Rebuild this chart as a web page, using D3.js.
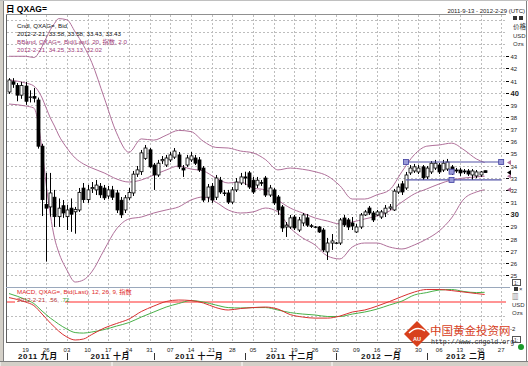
<!DOCTYPE html>
<html>
<head>
<meta charset="utf-8">
<script src="https://cdnjs.cloudflare.com/ajax/libs/d3/7.8.5/d3.min.js"></script>
<style>
  body { margin: 0; background: #fff; }
  svg { display: block; font-family: "Liberation Sans", Arial, "Noto Sans CJK SC", sans-serif; }
</style>
</head>
<body>
<svg id="chart" width="528" height="366"></svg>
<script>
// QXAG= (silver, USD/oz) daily candles, one row per trading day from 2011-9-13
// [open, high, low, close]
var candles = [
  [40.06, 41.2, 39.9, 41.05], [40.9, 41.2, 40.4, 40.7], [40.6, 40.8, 39.3, 39.8], [39.8, 40.9, 39.5, 40.6],
  [40.55, 40.9, 39.0, 39.3], [39.6, 40.2, 39.2, 39.65], [39.7, 40.4, 39.2, 39.55], [39.4, 39.6, 35.4, 35.6],
  [35.6, 35.8, 29.85, 31.2], [30.8, 33.4, 26.1, 30.5], [30.6, 33.4, 29.8, 31.75], [31.4, 32.0, 28.95, 29.8],
  [29.8, 31.3, 28.95, 30.5], [30.7, 31.17, 29.7, 30.1], [29.8, 30.76, 28.7, 30.35], [30.5, 31.3, 28.55, 30.0],
  [30.2, 30.6, 28.4, 30.4], [30.35, 32.16, 30.19, 31.8], [32.15, 32.57, 30.93, 31.2], [31.2, 32.41, 30.93, 32.0],
  [32.1, 32.65, 31.75, 32.2], [32.0, 32.82, 31.58, 32.4], [32.3, 32.57, 31.34, 31.6], [32.15, 32.41, 31.17, 31.35],
  [31.5, 32.33, 31.26, 32.0], [32.0, 32.33, 31.17, 31.4], [31.75, 32.0, 30.1, 30.35], [31.15, 31.42, 29.69, 29.95],
  [30.35, 31.58, 30.1, 31.35], [31.35, 32.16, 31.17, 31.8], [31.75, 33.56, 31.5, 33.3], [33.3, 33.97, 33.07, 33.65],
  [33.5, 35.29, 33.23, 35.05], [34.6, 35.7, 34.47, 35.45], [35.3, 35.45, 33.81, 33.9], [34.05, 34.22, 32.0, 33.23],
  [33.23, 34.47, 33.07, 34.2], [34.4, 34.79, 34.14, 34.5], [34.05, 34.88, 33.89, 34.63], [34.47, 35.12, 34.3, 34.88],
  [34.7, 35.45, 34.55, 35.2], [34.88, 35.12, 33.72, 33.9], [33.8, 34.05, 33.07, 33.64], [34.05, 34.88, 33.89, 34.63],
  [34.47, 35.12, 34.3, 34.8], [34.63, 34.88, 34.05, 34.2], [34.47, 34.71, 33.48, 33.64], [33.8, 33.97, 31.01, 31.17],
  [31.4, 32.49, 31.01, 32.24], [32.3, 32.57, 30.93, 31.17], [31.4, 33.23, 31.17, 32.98], [32.8, 33.07, 31.67, 31.83],
  [31.75, 32.0, 31.5, 31.7], [31.75, 32.0, 30.84, 31.0], [31.0, 32.24, 30.84, 32.0], [32.0, 32.98, 31.83, 32.65],
  [32.57, 33.4, 32.41, 33.07], [33.07, 33.5, 32.4, 32.98], [33.4, 33.56, 32.08, 32.24], [32.8, 33.07, 31.67, 31.83],
  [32.4, 33.07, 32.16, 32.8], [32.6, 32.82, 32.33, 32.55], [32.98, 33.15, 31.42, 31.58], [31.58, 32.41, 31.42, 32.16],
  [32.0, 32.16, 30.76, 30.93], [31.42, 31.58, 29.94, 30.35], [30.6, 30.76, 28.54, 28.87], [28.95, 29.36, 28.13, 29.1],
  [28.95, 29.94, 28.79, 29.7], [29.77, 29.94, 28.7, 28.87], [28.7, 29.77, 28.54, 29.53], [29.28, 30.1, 29.03, 29.94],
  [29.7, 30.02, 28.95, 29.1], [29.05, 29.2, 28.87, 29.0], [28.95, 29.03, 28.87, 28.95], [28.95, 29.03, 28.46, 28.54],
  [28.7, 28.87, 26.89, 27.06], [26.9, 28.05, 26.23, 27.63], [27.63, 28.37, 27.06, 27.8], [27.6, 27.72, 27.55, 27.63],
  [27.63, 29.69, 27.47, 29.53], [29.69, 29.94, 28.95, 29.12], [29.53, 29.69, 28.7, 28.95], [29.28, 29.77, 28.7, 29.03],
  [28.54, 29.2, 28.46, 28.95], [28.95, 30.1, 28.79, 29.94], [29.94, 30.35, 29.86, 30.19], [30.51, 30.68, 29.94, 30.1],
  [30.1, 30.27, 29.36, 29.53], [29.94, 30.35, 29.86, 30.19], [29.77, 30.35, 29.61, 30.19], [30.1, 30.76, 29.77, 30.5],
  [30.5, 30.84, 30.35, 30.6], [30.35, 32.08, 30.27, 31.9], [31.83, 32.49, 31.67, 32.24], [32.5, 32.74, 31.58, 31.83],
  [32.16, 33.48, 32.0, 33.23], [33.4, 34.05, 33.23, 33.8], [33.56, 34.14, 33.4, 33.9], [33.48, 34.05, 33.31, 33.8],
  [33.9, 34.05, 32.82, 33.0], [33.07, 33.97, 32.9, 33.8], [33.48, 34.38, 33.31, 34.2], [33.8, 34.47, 33.64, 34.2],
  [34.05, 34.22, 33.31, 33.48], [33.64, 34.47, 33.48, 34.2], [33.72, 34.55, 33.56, 34.3], [33.89, 34.05, 33.23, 33.48],
  [33.64, 33.81, 33.4, 33.56], [33.64, 33.81, 33.15, 33.4], [33.56, 33.72, 33.31, 33.48], [33.56, 33.72, 33.15, 33.31],
  [33.23, 33.72, 32.82, 33.56], [33.15, 33.64, 32.98, 33.48], [33.23, 33.56, 33.07, 33.48], [33.58, 33.58, 33.43, 33.43]
];

// indicator readings, taken at these days
var sampleDays = [
  "2011-09-13", "2011-09-19", "2011-09-21", "2011-09-23", "2011-09-26", "2011-09-27", "2011-09-28", "2011-09-29",
  "2011-10-03", "2011-10-05", "2011-10-07", "2011-10-11", "2011-10-14", "2011-10-19", "2011-10-24", "2011-10-27",
  "2011-11-01", "2011-11-04", "2011-11-09", "2011-11-14", "2011-11-17", "2011-11-22", "2011-11-25", "2011-11-30",
  "2011-12-05", "2011-12-08", "2011-12-13", "2011-12-16", "2011-12-21", "2011-12-26", "2011-12-29", "2012-01-03",
  "2012-01-06", "2012-01-11", "2012-01-16", "2012-01-19", "2012-01-24", "2012-01-27", "2012-02-01", "2012-02-06",
  "2012-02-09", "2012-02-14", "2012-02-17", "2012-02-21"
];
var bbUpper = [
  43.0, 43.0, 42.9, 43.8, 44.5, 45.2, 45.7, 46.1, 46.0, 45.0, 43.9, 42.5, 39.6, 36.7, 35.1, 36.2,
  36.1, 36.5, 36.9, 36.8, 36.0, 35.5, 35.45, 35.2, 35.05, 34.5, 33.65, 33.8, 33.7, 33.5, 33.15, 32.35,
  31.25, 31.25, 31.6, 32.0, 33.5, 34.9, 35.6, 35.7, 35.85, 35.3, 34.55, 34.25
];
var bbMiddle = [
  41.05, 40.8, 40.56, 39.57, 38.74, 37.92, 37.26, 36.52, 35.45, 34.63, 34.14, 33.81, 33.4, 32.9, 32.65, 32.82,
  33.23, 33.64, 33.97, 33.72, 33.56, 32.98, 32.57, 32.65, 32.16, 32.0, 31.17, 30.51, 30.1, 29.69, 29.44, 29.2,
  29.36, 29.61, 29.86, 30.27, 31.0, 31.67, 32.08, 32.49, 32.82, 32.98, 33.07, 33.13
];
var bbLower = [
  39.07, 38.91, 38.74, 35.29, 32.41, 29.94, 28.05, 26.89, 25.41, 24.42, 24.59, 25.25, 27.06, 28.79, 29.61, 29.77,
  30.1, 30.35, 30.6, 31.17, 31.42, 31.0, 30.35, 30.1, 30.19, 30.51, 30.19, 28.87, 28.05, 27.47, 26.56, 26.32,
  27.3, 27.63, 27.63, 27.3, 27.14, 27.47, 27.96, 28.62, 29.69, 31.26, 31.83, 32.02
];
var macdLine = [
  0.33, 0.0, -0.26, -0.89, -1.22, -1.56, -1.85, -2.15, -2.59, -2.81, -2.74, -2.41, -1.93, -1.59, -1.26, -0.70,
  -0.30, 0.04, 0.15, 0.11, -0.07, -0.41, -0.59, -0.48, -0.41, -0.37, -0.52, -0.93, -1.11, -1.19, -1.19, -1.04,
  -0.74, -0.59, -0.30, 0.04, 0.41, 0.74, 0.93, 0.93, 0.85, 0.74, 0.63, 0.56
];
var macdSignal = [
  0.63, 0.19, -0.11, -0.67, -0.93, -1.19, -1.41, -1.63, -2.0, -2.26, -2.30, -2.22, -2.04, -1.78, -1.52, -1.11,
  -0.74, -0.37, -0.11, 0.11, 0.0, -0.22, -0.41, -0.44, -0.41, -0.41, -0.59, -0.78, -0.89, -0.96, -1.07, -1.07,
  -0.89, -0.74, -0.52, -0.22, 0.07, 0.52, 0.70, 0.89, 0.93, 0.78, 0.70, 0.72
];
// drawn horizontal channel lines
var channelLines = [
  { from: "2012-01-25", to: "2012-02-27", value: 34.3 },
  { from: "2012-01-25", to: "2012-02-27", value: 32.82 }
];
var channelHandles = [["2012-01-25", 34.3], ["2012-02-27", 34.3], ["2012-02-09", 33.5], ["2012-02-09", 32.82]];

var priceTicks = d3.range(25, 44);
var monthNames = ["2011 九月", "2011 十月", "2011 十一月", "2011 十二月", "2012 一月", "2012 二月"];
var legend = {
  cndl: "Cndl, QXAG=, Bid",
  cndlVal: "2012-2-21, 33.58, 33.58, 33.43, 33.43",
  bb: "BBand, QXAG=, Bid(Last), 20, 指数, 2.0",
  bbVal: "2012-2-21, 34.25, 33.13, 32.02",
  macd: "MACD, QXAG=, Bid(Last), 12, 26, 9, 指数"
};

var svg = d3.select("#chart");
var W = 528, H = 366;
var left = 7, right = 506, mainTop = 15, mainBottom = 287, macdTop = 288, macdBottom = 342;

// trading days (Mon-Fri) of the visible range
var days = d3.timeDay.range(new Date(2011, 8, 13), new Date(2012, 2, 1))
  .filter(function(d) { return d.getDay() % 6 !== 0; });
var fmt = d3.timeFormat("%Y-%m-%d");
var dayIndex = new Map(days.map(function(d, i) { return [fmt(d), i]; }));

var x = d3.scaleLinear().domain([0, 120]).range([9, 9 + 120 * 4.136]);
var y = d3.scaleLinear().domain([24.01, 46.48]).range([mainBottom, mainTop - 1]);
var ym = d3.scaleLinear().domain([-2.96, 1.04]).range([macdBottom, macdTop]);

function xd(s) { return x(dayIndex.get(s)); }

var defs = svg.append("defs");
defs.append("clipPath").attr("id", "clipMain").append("rect")
  .attr("x", left).attr("y", mainTop).attr("width", right - left).attr("height", mainBottom - mainTop);
defs.append("clipPath").attr("id", "clipMacd").append("rect")
  .attr("x", left).attr("y", macdTop).attr("width", right - left).attr("height", macdBottom - macdTop);

// outer window bits
svg.append("rect").attr("x", 0).attr("y", 0).attr("width", W).attr("height", H).attr("fill", "#fff");
svg.append("rect").attr("x", 0).attr("y", 0).attr("width", 3).attr("height", H).attr("fill", "#d4d0c8");
svg.append("line").attr("x1", 3.5).attr("x2", 3.5).attr("y1", 0).attr("y2", 361).attr("stroke", "#808080");
svg.append("rect").attr("x", 0).attr("y", 361).attr("width", W).attr("height", 5).attr("fill", "#d4d0c8");
svg.append("line").attr("x1", 0).attr("x2", W).attr("y1", 361.5).attr("y2", 361.5).attr("stroke", "#808080");
[[0, 110], [112, 240], [242, 330], [332, 528]].forEach(function(s) {
  svg.append("line").attr("x1", s[0]).attr("x2", s[0]).attr("y1", 362).attr("y2", 366).attr("stroke", "#fff");
});
svg.append("line").attr("x1", 526.5).attr("x2", 526.5).attr("y1", 0).attr("y2", 361).attr("stroke", "#808080");
svg.append("line").attr("x1", 0).attr("x2", W).attr("y1", 0.5).attr("y2", 0.5).attr("stroke", "#c0c0c0");

// grid
var grid = svg.append("g").attr("stroke", "#bdbdbd").attr("stroke-dasharray", "2,2").attr("stroke-width", 1);
d3.range(24, 47).forEach(function(v) {
  grid.append("line").attr("x1", left).attr("x2", right)
    .attr("y1", Math.round(y(v)) + 0.5).attr("y2", Math.round(y(v)) + 0.5);
});
[-2, -1].forEach(function(v) {
  grid.append("line").attr("x1", left).attr("x2", right)
    .attr("y1", Math.round(ym(v)) + 0.5).attr("y2", Math.round(ym(v)) + 0.5);
});
var mondays = days.map(function(d, i) { return { d: d, i: i }; })
  .filter(function(o) { return o.d.getDay() === 1; });
mondays.forEach(function(o) {
  var xx = Math.round(x(o.i)) + 0.5;
  grid.append("line").attr("x1", xx).attr("x2", xx).attr("y1", mainTop).attr("y2", macdBottom);
});

// frames
var frame = svg.append("g").attr("fill", "none");
frame.append("line").attr("x1", left - 0.5).attr("x2", left - 0.5).attr("y1", mainTop - 1).attr("y2", macdBottom + 1).attr("stroke", "#606060");
frame.append("line").attr("x1", left - 1).attr("x2", right).attr("y1", mainTop - 0.5).attr("y2", mainTop - 0.5).attr("stroke", "#909090");
frame.append("line").attr("x1", left - 1).attr("x2", right + 4).attr("y1", mainBottom + 0.5).attr("y2", mainBottom + 0.5).attr("stroke", "#9aa8bc");
frame.append("line").attr("x1", left - 1).attr("x2", right).attr("y1", macdBottom + 0.5).attr("y2", macdBottom + 0.5).attr("stroke", "#606060");

// bollinger bands
var bbColor = "#b0709a";
var main = svg.append("g").attr("clip-path", "url(#clipMain)");
function bandLine(vals) {
  return d3.line()
    .x(function(d, i) { return xd(sampleDays[i]); })
    .y(function(d) { return y(d); })
    .curve(d3.curveMonotoneX)(vals);
}
[bbUpper, bbMiddle, bbLower].forEach(function(vals) {
  main.append("path").attr("d", bandLine(vals)).attr("fill", "none")
    .attr("stroke", bbColor).attr("stroke-width", 1);
});

// candles
var cg = main.append("g");
candles.forEach(function(c, i) {
  var cx = Math.round(x(i)) + 0.5;
  cg.append("line").attr("x1", cx).attr("x2", cx).attr("y1", y(c[1])).attr("y2", y(c[2]))
    .attr("stroke", "#000").attr("stroke-width", 1);
  var top = y(Math.max(c[0], c[3])), bot = y(Math.min(c[0], c[3]));
  cg.append("rect").attr("x", cx - 1.5).attr("y", top).attr("width", 3).attr("height", Math.max(0.3, bot - top))
    .attr("fill", c[3] > c[0] ? "#fff" : "#000").attr("stroke", "#000").attr("stroke-width", 0.8);
});

// channel annotation lines
channelLines.forEach(function(l) {
  main.append("line").attr("x1", xd(l.from)).attr("x2", x(119)).attr("y1", y(l.value)).attr("y2", y(l.value))
    .attr("stroke", "#5454a8").attr("stroke-width", 1.2);
});
channelHandles.forEach(function(h) {
  var hx = h[0] === "2012-02-27" ? x(119) : xd(h[0]);
  main.append("rect").attr("x", hx - 2.5).attr("y", y(h[1]) - 2.5).attr("width", 5).attr("height", 5)
    .attr("fill", "#9a9ad8").attr("stroke", "#4040a0").attr("stroke-width", 0.8);
});

// price axis
var axisG = svg.append("g").attr("transform", "translate(" + right + ",0)");
priceTicks.forEach(function(v) {
  var yy = Math.round(y(v)) + 0.5;
  var bold = (v === 40 || v === 30);
  axisG.append("line").attr("x1", 0).attr("x2", 3).attr("y1", yy).attr("y2", yy).attr("stroke", "#000");
  axisG.append("text").attr("x", 4.5).attr("y", yy + 2.2).text(v)
    .attr("font-size", bold ? 7.5 : 6).attr("font-weight", bold ? "bold" : "normal").attr("fill", "#222");
});
// last value markers
[[bbUpper[bbUpper.length - 1], bbColor], [bbMiddle[bbMiddle.length - 1], bbColor],
 [bbLower[bbLower.length - 1], bbColor], [candles[candles.length - 1][3], "#000"]].forEach(function(m) {
  var yy = y(m[0]);
  axisG.append("path").attr("d", "M1," + yy + "L5," + (yy - 2.5) + "L5," + (yy + 2.5) + "Z").attr("fill", m[1]);
});
axisG.append("text").attr("x", 7).attr("y", 29).attr("font-size", 6.5).attr("fill", "#333").text("价格");
axisG.append("text").attr("x", 7).attr("y", 37.5).attr("font-size", 6).attr("fill", "#333").text("USD");
axisG.append("text").attr("x", 7).attr("y", 45.5).attr("font-size", 6).attr("fill", "#333").text("Ozs");
axisG.append("rect").attr("x", 7).attr("y", 16).attr("width", 4).attr("height", 4).attr("fill", "#333");
axisG.append("rect").attr("x", 13).attr("y", 16).attr("width", 4).attr("height", 4).attr("fill", "#333");

// MACD panel
var mg = svg.append("g").attr("clip-path", "url(#clipMacd)");
mg.append("line").attr("x1", left).attr("x2", right).attr("y1", ym(0)).attr("y2", ym(0))
  .attr("stroke", "#ff7070").attr("stroke-width", 1.6);
mg.append("rect").attr("x", 15).attr("y", 296).attr("width", 50).attr("height", 9).attr("fill", "#fff");
function macdPath(vals) {
  return d3.line()
    .x(function(d, i) { return xd(sampleDays[i]); })
    .y(function(d) { return ym(d); })
    .curve(d3.curveMonotoneX)(vals);
}
mg.append("path").attr("d", macdPath(macdSignal)).attr("fill", "none").attr("stroke", "#48b048").attr("stroke-width", 1);
mg.append("path").attr("d", macdPath(macdLine)).attr("fill", "none").attr("stroke", "#d83030").attr("stroke-width", 1);

var macdAxis = svg.append("g").attr("transform", "translate(" + right + ",0)");
macdAxis.append("text").attr("x", 4).attr("y", ym(-2) + 2.2).attr("font-size", 6).attr("fill", "#222").text("-2");
macdAxis.append("text").attr("x", 6).attr("y", 299).attr("font-size", 6.5).attr("fill", "#333").text("▥");
macdAxis.append("text").attr("x", 6).attr("y", 306.5).attr("font-size", 6).attr("fill", "#333").text("USD");
macdAxis.append("text").attr("x", 6).attr("y", 314.5).attr("font-size", 6).attr("fill", "#333").text("Ozs");
macdAxis.append("rect").attr("x", 8).attr("y", 287).attr("width", 4).attr("height", 4).attr("fill", "#333");
macdAxis.append("text").attr("x", 13).attr("y", 291).attr("font-size", 6).attr("fill", "#333").text("×");
[[279], [336]].forEach(function(p) {
  macdAxis.append("rect").attr("x", 6.5).attr("y", p[0] + 0.5).attr("width", 8).attr("height", 6)
    .attr("fill", "#fff").attr("stroke", "#555");
  macdAxis.append("text").attr("x", 8).attr("y", p[0] + 5.5).attr("font-size", 5).attr("fill", "#333").text("1:");
});
macdAxis.append("circle").attr("cx", 15).attr("cy", 347).attr("r", 3).attr("fill", "#1a9a2a");

// x axis labels
var xa = svg.append("g").attr("font-size", 6).attr("fill", "#222").attr("text-anchor", "middle");
mondays.filter(function(o) { return o.i > 0; }).forEach(function(o) {
  xa.append("text").attr("x", x(o.i)).attr("y", 351.5).text(d3.timeFormat("%d")(o.d));
});
var monthStarts = [0];
days.forEach(function(d, i) { if (i > 0 && d.getMonth() !== days[i - 1].getMonth()) monthStarts.push(i); });
monthStarts.push(120);
var ma = svg.append("g").attr("font-size", 8).attr("font-weight", "bold").attr("fill", "#111").attr("text-anchor", "middle");
monthNames.forEach(function(name, k) {
  var a = x(monthStarts[k]), b = x(monthStarts[k + 1]);
  ma.append("text").attr("x", (a + b) / 2).attr("y", 359).attr("letter-spacing", 0.6).text(name);
  if (k > 0) {
    ma.append("line").attr("x1", Math.round(a) + 0.5).attr("x2", Math.round(a) + 0.5)
      .attr("y1", 353).attr("y2", 360).attr("stroke", "#333");
  }
});

// legends
var lg = svg.append("g").attr("font-size", 6.2);
lg.append("text").attr("x", 17).attr("y", 27.5).attr("fill", "#111").text(legend.cndl);
lg.append("text").attr("x", 17).attr("y", 35.5).attr("fill", "#111").text(legend.cndlVal);
lg.append("text").attr("x", 17).attr("y", 43.5).attr("fill", "#a0407a").text(legend.bb);
lg.append("text").attr("x", 17).attr("y", 51.5).attr("fill", "#a0407a").text(legend.bbVal);
lg.append("text").attr("x", 17).attr("y", 294).attr("fill", "#e02828").text(legend.macd);
var lv = lg.append("text").attr("x", 17).attr("y", 302);
lv.append("tspan").attr("fill", "#b03030").text("2012-2-21, " + macdLine[macdLine.length - 1].toFixed(2).replace(/^0/, "") + ", ");
lv.append("tspan").attr("fill", "#30a030").text(macdSignal[macdSignal.length - 1].toFixed(2).replace(/^0/, ""));

// title and range
svg.append("text").attr("x", 6).attr("y", 11.5).attr("font-size", 8.5).attr("font-weight", "bold").attr("fill", "#000").text("日 QXAG=");
svg.append("text").attr("x", 525).attr("y", 12.5).attr("font-size", 6).attr("text-anchor", "end").attr("fill", "#222")
  .text("2011-9-13 - 2012-2-29 (UTC)");

// watermark
var wm = svg.append("g");
wm.append("path").attr("d", "M417,321L430,334L417,347L404,334Z").attr("fill", "#d8401c");
wm.append("path").attr("d", "M409,333Q417,325 425,331").attr("fill", "none").attr("stroke", "#fff").attr("stroke-width", 1.5);
wm.append("text").attr("x", 417).attr("y", 341).attr("font-size", 5.5).attr("font-weight", "bold")
  .attr("fill", "#fff").attr("text-anchor", "middle").text("AU");
wm.append("text").attr("x", 430).attr("y", 335).attr("font-size", 11.5).attr("fill", "#d8401c")
  .attr("font-family", "Noto Sans CJK SC").text("中国黄金投资网");
wm.append("text").attr("x", 431).attr("y", 343.5).attr("font-size", 6.6).attr("fill", "#333")
  .attr("font-family", "Liberation Mono, monospace").text("http://www.cngold.org");
</script>
</body>
</html>
